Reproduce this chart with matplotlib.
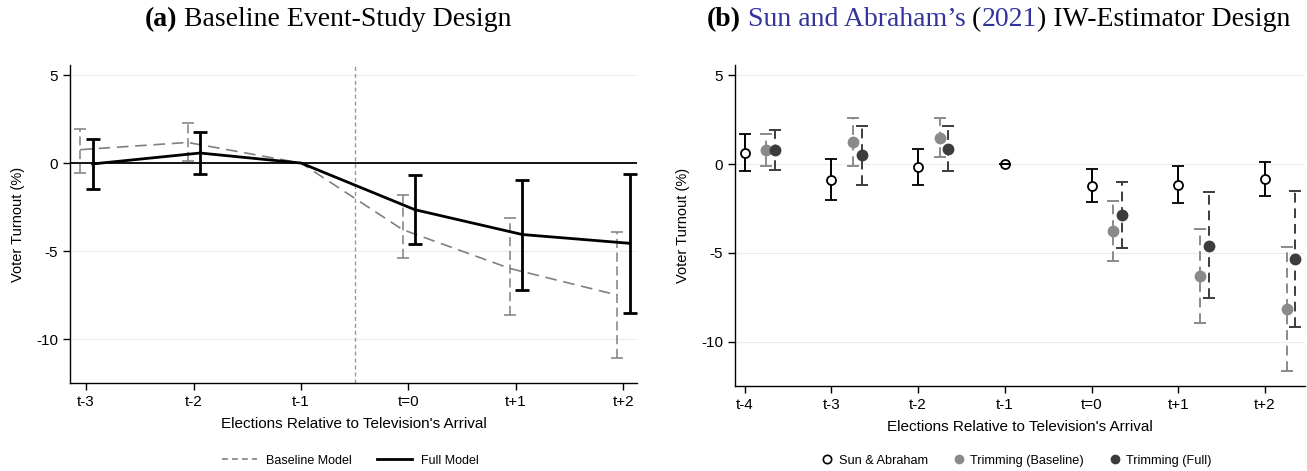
import numpy as np
import matplotlib.pyplot as plt

# Panel (a): baseline event-study
periods_a = ['t-3', 't-2', 't-1', 't=0', 't+1', 't+2']
x_a = np.array([-3, -2, -1, 0, 1, 2])
base_est = [0.76, 1.17, 0.0, -3.78, -5.99, -7.50]
base_lo = [-0.55, 0.13, 0.0, -5.37, -8.64, -11.08]
base_hi = [1.95, 2.27, 0.0, -1.81, -3.12, -3.91]
full_est = [-0.05, 0.57, 0.0, -2.65, -4.06, -4.56]
full_lo = [-1.46, -0.62, 0.0, -4.61, -7.20, -8.53]
full_hi = [1.36, 1.78, 0.0, -0.66, -0.95, -0.60]

# Panel (b): Sun & Abraham IW estimator
periods_b = ['t-4', 't-3', 't-2', 't-1', 't=0', 't+1', 't+2']
x_b = np.array([-4, -3, -2, -1, 0, 1, 2])
sa_est = [0.64, -0.88, -0.19, 0.0, -1.24, -1.18, -0.82]
sa_lo = [-0.37, -2.02, -1.18, 0.0, -2.15, -2.21, -1.78]
sa_hi = [1.70, 0.28, 0.84, 0.0, -0.28, -0.11, 0.11]
# trimming estimates are not shown for t-1
x_trim = np.array([-4, -3, -2, 0, 1, 2])
tb_est = [0.79, 1.24, 1.44, -3.78, -6.31, -8.16]
tb_lo = [-0.11, -0.11, 0.37, -5.45, -8.93, -11.63]
tb_hi = [1.70, 2.60, 2.57, -2.08, -3.65, -4.68]
tf_est = [0.79, 0.51, 0.84, -2.87, -4.59, -5.34]
tf_lo = [-0.34, -1.16, -0.41, -4.74, -7.55, -9.18]
tf_hi = [1.91, 2.17, 2.12, -0.99, -1.59, -1.50]

SANS = 'Liberation Sans'
SERIF = 'Liberation Serif'
GRAY = '#808080'
DARK = '#3c3c3c'
LIGHT = '#8a8a8a'
BLUE = '#33339c'


def yerr(est, lo, hi):
    est, lo, hi = map(np.asarray, (est, lo, hi))
    return np.vstack([est - lo, hi - est])


def style_axes(ax, labels, xs, grid_vals):
    for s in ['top', 'right']:
        ax.spines[s].set_visible(False)
    for s in ['left', 'bottom']:
        ax.spines[s].set_linewidth(1.0)
    ax.set_xticks(xs)
    ax.set_xticklabels(labels, fontsize=11, family=SANS)
    ax.set_yticks([5, 0, -5, -10])
    ax.set_yticklabels(['5', '0', '-5', '-10'], fontsize=11, family=SANS)
    ax.tick_params(length=5, width=1, direction='out')
    for g in grid_vals:
        ax.axhline(g, color='#ececec', lw=0.8, zorder=0)
    ax.set_xlabel("Elections Relative to Television's Arrival", fontsize=11, family=SANS, labelpad=6)
    ax.set_ylabel('Voter Turnout (%)', fontsize=10.5, family=SANS, labelpad=8)


def dashed_errorbar(ax, x, est, lo, hi, color, capsize, lw, dashes):
    eb = ax.errorbar(x, est, yerr=yerr(est, lo, hi), fmt='none', ecolor=color,
                     elinewidth=lw, capsize=capsize, capthick=lw, zorder=2)
    eb[2][0].set_linestyle((0, dashes))
    return eb


fig = plt.figure(figsize=(13.07, 4.71), dpi=100)

# ---- panel (a)
ax1 = fig.add_axes([0.0536, 0.187, 0.434, 0.675])
style_axes(ax1, periods_a, x_a, [5, -5, -10])
ax1.set_xlim(-3.15, 2.13)
ax1.set_ylim(-12.49, 5.57)
ax1.axhline(0, color='black', lw=1.3, zorder=1)
ax1.axvline(-0.5, color='#999999', lw=1.0, ls=(0, (3, 2)), zorder=1)

xb = x_a - 0.055
xf = x_a + 0.06
mask = np.array(periods_a) != 't-1'
dashed_errorbar(ax1, xb[mask], np.array(base_est)[mask], np.array(base_lo)[mask],
                np.array(base_hi)[mask], GRAY, 4, 1.1, (6, 3))
ax1.plot(np.where(mask, xb, x_a), base_est, color=GRAY, lw=1.2, dashes=(7, 4), zorder=3)
ax1.errorbar(xf[mask], np.array(full_est)[mask],
             yerr=yerr(np.array(full_est)[mask], np.array(full_lo)[mask], np.array(full_hi)[mask]),
             fmt='none', ecolor='black', elinewidth=2.0, capsize=5, capthick=2.0, zorder=4)
ax1.plot(np.where(mask, xf, x_a), full_est, color='black', lw=2.0, zorder=5)

h1 = [plt.Line2D([], [], color=GRAY, lw=1.2, dashes=(3.5, 2.5)),
      plt.Line2D([], [], color='black', lw=2.0)]
fig.legend(h1, ['Baseline Model', 'Full Model'], loc='center',
           bbox_to_anchor=(0.268, 0.022), ncol=2, frameon=False,
           prop={'family': SANS, 'size': 9}, handlelength=2.8, handletextpad=0.7,
           columnspacing=2.0, borderpad=0, borderaxespad=0)

# ---- panel (b)
ax2 = fig.add_axes([0.5624, 0.1805, 0.436, 0.6815])
style_axes(ax2, periods_b, x_b, [5, 0, -5, -10])
ax2.set_xlim(-4.11, 2.46)
ax2.set_ylim(-12.5, 5.58)

sa = ax2.errorbar(x_b, sa_est, yerr=yerr(sa_est, sa_lo, sa_hi), fmt='o', color='black',
                  mfc='white', mec='black', ms=6.5, mew=1.3, elinewidth=1.4,
                  capsize=4.5, capthick=1.4, zorder=4)
for cap in sa[1]:
    cap.set_zorder(6)
dashed_errorbar(ax2, x_trim + 0.25, tb_est, tb_lo, tb_hi, LIGHT, 4, 1.4, (5, 3))
ax2.plot(x_trim + 0.25, tb_est, 'o', color=LIGHT, ms=7.5, zorder=5)
dashed_errorbar(ax2, x_trim + 0.35, tf_est, tf_lo, tf_hi, DARK, 4, 1.4, (5, 3))
ax2.plot(x_trim + 0.35, tf_est, 'o', color=DARK, ms=7.5, zorder=5)

h2 = [plt.Line2D([], [], ls='none', marker='o', mfc='white', mec='black', ms=6, mew=1.2),
      plt.Line2D([], [], ls='none', marker='o', color=LIGHT, ms=6),
      plt.Line2D([], [], ls='none', marker='o', color=DARK, ms=6)]
fig.legend(h2, ['Sun & Abraham', 'Trimming (Baseline)', 'Trimming (Full)'],
           loc='center', bbox_to_anchor=(0.778, 0.022), ncol=3, frameon=False,
           prop={'family': SANS, 'size': 9.2}, handlelength=0.8, handletextpad=0.5,
           columnspacing=2.0, borderpad=0, borderaxespad=0)


# ---- titles built from pieces (bold tag, linked citation in blue)
def piece_title(center_x, y, pieces, size=20):
    renderer = fig.canvas.get_renderer()
    texts = []
    x = 0.0
    for s, color, weight in pieces:
        t = fig.text(x, y, s, color=color, fontweight=weight, fontsize=size,
                     family=SERIF, ha='left', va='center')
        bb = t.get_window_extent(renderer)
        x += bb.width / fig.bbox.width
        texts.append(t)
    start = center_x - x / 2
    for t in texts:
        px, py = t.get_position()
        t.set_position((px + start, py))


fig.canvas.draw()
piece_title(0.251, 0.958, [('(a)', 'black', 'bold'), (' Baseline Event-Study Design', 'black', 'normal')])
piece_title(0.764, 0.958, [('(b)', 'black', 'bold'), (' ', 'black', 'normal'),
                           ("Sun and Abraham\u2019s", BLUE, 'normal'), (' (', 'black', 'normal'),
                           ('2021', BLUE, 'normal'), (') IW-Estimator Design', 'black', 'normal')])

fig.savefig('out.png', dpi=100)
